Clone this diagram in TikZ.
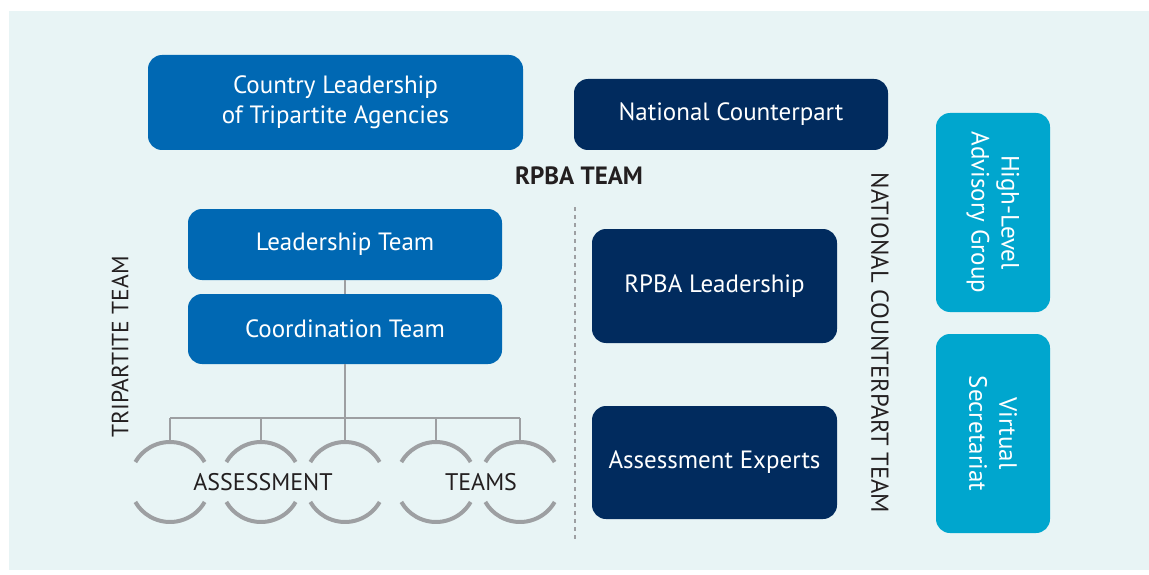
\documentclass[tikz,border=0pt]{standalone}
\usepackage{fontspec}
\setmainfont{PT Sans}
\definecolor{bg}{HTML}{E8F4F5}
\definecolor{midblue}{HTML}{0068B3}
\definecolor{navy}{HTML}{012B5E}
\definecolor{cyanb}{HTML}{00A6CE}
\definecolor{linegray}{HTML}{9D9FA2}
\definecolor{txt}{HTML}{231F20}
\begin{document}
\begin{tikzpicture}[x=1pt,y=-1pt,
  bx/.style={rounded corners=14pt, inner sep=0pt, text=white, align=center,
    font=\fontsize{25}{30}\selectfont},
  bmid/.style={bx, fill=midblue},
  bnavy/.style={bx, fill=navy},
  bcyan/.style={bx, fill=cyanb},
  lbl/.style={text=txt, font=\fontsize{24}{28}\selectfont, inner sep=0pt},
  conn/.style={draw=linegray, line width=2.5pt},
  ring/.style={draw=linegray, line width=4pt},
  dots/.style={draw=linegray, line width=1.6pt, dash pattern=on 4pt off 4pt}]
\useasboundingbox (0,0) rectangle (1149,575);
\fill[white] (0,0) rectangle (1149,575);
\fill[bg] (9,11) rectangle (1149,570);

% top boxes
\node[bmid, minimum width=375pt, minimum height=95pt] (cl) at (335.5,102.5)
  {Country Leadership\\of Tripartite Agencies};
\node[bnavy, minimum width=314pt, minimum height=71pt] (nc) at (731,114.5)
  {National Counterpart};

\node[text=txt, font=\fontsize{25}{28}\selectfont\bfseries, inner sep=0pt] (rt) at (579,176) {RPBA TEAM};

% tripartite
\node[bmid, minimum width=314pt, minimum height=71pt] (lt) at (345,244.5) {Leadership Team};
\node[bmid, minimum width=314pt, minimum height=70pt] (ct) at (345,329) {Coordination Team};
\node[lbl, rotate=90, font=\fontsize{23.5}{28}\selectfont] (tt) at (120,347) {TRIPARTITE TEAM};

% national
\node[bnavy, minimum width=245pt, minimum height=114pt] (rl) at (714.5,286) {RPBA Leadership};
\node[bnavy, minimum width=245pt, minimum height=113pt] (ae) at (714.5,462.5) {Assessment Experts};
\node[lbl, rotate=-90, font=\fontsize{24.5}{28}\selectfont] (nt) at (880,343) {NATIONAL COUNTERPART TEAM};

% right column
\node[bcyan, minimum width=114pt, minimum height=199pt] (hl) at (993,212.5) {};
\node[text=white, font=\fontsize{25}{30}\selectfont, align=center, rotate=-90, inner sep=0pt] at (hl.center) {High-Level\\Advisory Group};
\node[bcyan, minimum width=114pt, minimum height=199pt] (vs) at (993,433.5) {};
\node[text=white, font=\fontsize{25}{30}\selectfont, align=center, rotate=-90, inner sep=0pt] at (vs.center) {Virtual\\Secretariat};

% dotted divider
\coordinate (dv1) at (575,207);
\coordinate (dv2) at (575,540);
\draw[dots] (dv1) -- (dv2);

% tree
\coordinate (bar) at (343,418);
\draw[conn] (lt.south) -- (ct.north);
\draw[conn] (ct.south) -- (ct.south |- bar);
\foreach \i/\x in {1/170,2/261,3/345,4/436,5/520}{
  \coordinate (c\i) at (\x,482);
  \coordinate (b\i) at (\x,418);
  \coordinate (d\i) at (\x,442);
}
\draw[conn] (b1) -- (b5);
\foreach \i in {1,...,5}{
  \draw[conn] (b\i) -- (d\i);
  \draw[ring] (c\i) ++(-30:40) arc[start angle=-30, end angle=-150, radius=40];
  \draw[ring] (c\i) ++(30:40) arc[start angle=30, end angle=150, radius=40];
}
\node[lbl] (as) at (263,482) {ASSESSMENT};
\node[lbl] (tm) at (481,482) {TEAMS};
\end{tikzpicture}
\end{document}
